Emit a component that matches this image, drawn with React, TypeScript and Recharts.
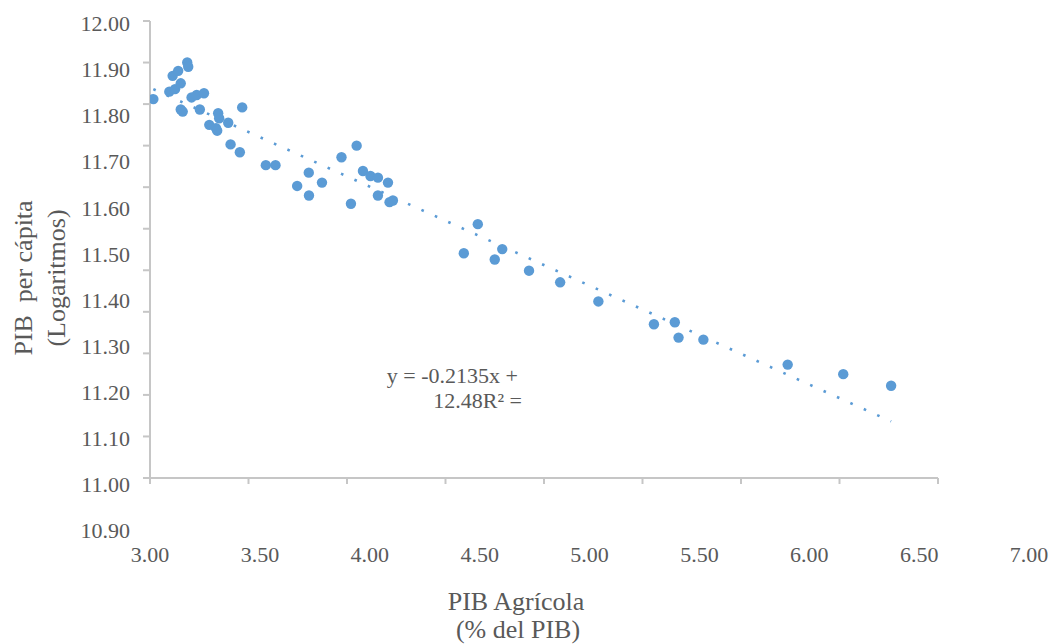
import { ScatterChart, Scatter, XAxis, YAxis } from 'recharts'

// PIB agrícola (% del PIB) vs PIB per cápita (log), one point per observation
const AGRI_SHARE = [
  3.017, 3.098, 3.127, 3.115, 3.143, 3.156, 3.189, 3.194, 3.156, 3.166,
  3.211, 3.237, 3.274, 3.253, 3.301, 3.335, 3.341, 3.346, 3.351, 3.397,
  3.468, 3.409, 3.456, 3.588, 3.637, 3.747, 3.806, 3.807, 3.873, 3.972,
  4.049, 4.081, 4.119, 4.157, 4.208, 4.157, 4.02, 4.216, 4.233, 4.664,
  4.593, 4.75, 4.788, 4.924, 5.082, 5.276, 5.558, 5.664, 5.683, 5.809,
  6.237, 6.519, 6.762,
]
const LOG_GDP = [
  11.812, 11.83, 11.836, 11.868, 11.88, 11.85, 11.9, 11.89, 11.787, 11.782,
  11.816, 11.822, 11.826, 11.787, 11.75, 11.742, 11.736, 11.778, 11.766, 11.755,
  11.792, 11.703, 11.684, 11.653, 11.653, 11.603, 11.635, 11.58, 11.611, 11.672,
  11.7, 11.639, 11.627, 11.623, 11.611, 11.58, 11.56, 11.564, 11.568, 11.511,
  11.441, 11.426, 11.451, 11.399, 11.371, 11.325, 11.27, 11.275, 11.238, 11.233,
  11.173, 11.15, 11.122,
]

const X_TICKS = [3, 3.5, 4, 4.5, 5, 5.5, 6, 6.5, 7]
const Y_TICKS = [10.9, 11.0, 11.1, 11.2, 11.3, 11.4, 11.5, 11.6, 11.7, 11.8, 11.9, 12.0]

// linear trend shown on the chart
const SLOPE = -0.2135
const INTERCEPT = 12.48
const EQ_LINE_1 = 'y = -0.2135x +'
const EQ_LINE_2 = '12.48R² ='

const BLUE = '#5B9BD5'
const AXIS = '#C6C6C6'
const TEXT = '#595959'
const FONT = '"Liberation Serif", "Times New Roman", serif'

const W = 1051
const H = 644
const PLOT_LEFT = 150
const PLOT_TOP = 21
const PLOT_RIGHT = 938
const PLOT_BOTTOM = 478

// tick labels in the source sit on a slightly stretched grid vs. the tick marks
const X_LABEL_STRETCH = 1.1156
const Y_LABEL_STRETCH = 1.1095

const labelStyle = { fontFamily: FONT, fontSize: 22, fill: TEXT }

const points = AGRI_SHARE.map((x, i) => ({ x, y: LOG_GDP[i] }))
const xMin = Math.min(...AGRI_SHARE)
const xMax = Math.max(...AGRI_SHARE)
const trend = [
  { x: xMin, y: SLOPE * xMin + INTERCEPT },
  { x: xMax, y: SLOPE * xMax + INTERCEPT },
]

function XTick({ x, payload }: { x: number; payload: { value: number } }) {
  const lx = PLOT_LEFT + (x - PLOT_LEFT) * X_LABEL_STRETCH
  return (
    <text x={lx} y={562} textAnchor="middle" style={labelStyle}>
      {payload.value.toFixed(2)}
    </text>
  )
}

function YTick({ y, payload }: { y: number; payload: { value: number } }) {
  const ly = 23.7 + (y - PLOT_TOP) * Y_LABEL_STRETCH
  return (
    <text x={130} y={ly + 7.5} textAnchor="end" style={labelStyle}>
      {payload.value.toFixed(2)}
    </text>
  )
}

export default function App() {
  return (
    <div style={{ position: 'absolute', left: 0, top: 0, width: W, height: H, background: '#fff' }}>
      <ScatterChart
        width={W}
        height={H}
        margin={{ top: PLOT_TOP, right: W - PLOT_RIGHT, bottom: H - PLOT_BOTTOM - 30, left: 0 }}
      >
        <XAxis
          type="number"
          dataKey="x"
          domain={[3, 7]}
          ticks={X_TICKS}
          height={30}
          tickSize={6}
          stroke={AXIS}
          strokeWidth={2}
          tick={(props: any) => <XTick {...props} />}
          interval={0}
          allowDataOverflow
        />
        <YAxis
          type="number"
          dataKey="y"
          domain={[10.9, 12]}
          ticks={Y_TICKS}
          width={PLOT_LEFT}
          tickSize={7}
          stroke={AXIS}
          strokeWidth={2}
          tick={(props: any) => <YTick {...props} />}
          interval={0}
          allowDataOverflow
        />
        <Scatter
          data={trend}
          line={{ stroke: BLUE, strokeWidth: 2.6, strokeDasharray: '2.6 12.1' }}
          shape={() => <g />}
          isAnimationActive={false}
        />
        <Scatter
          data={points}
          fill={BLUE}
          isAnimationActive={false}
          shape={(p: any) => <circle cx={p.cx} cy={p.cy} r={5.2} fill={BLUE} />}
        />
      </ScatterChart>
      <svg
        width={W}
        height={H}
        style={{ position: 'absolute', left: 0, top: 0, pointerEvents: 'none' }}
        fontFamily={FONT}
        fill={TEXT}
      >
        <text x={518} y={383} textAnchor="end" fontSize={22}>{EQ_LINE_1}</text>
        <text x={522} y={408} textAnchor="end" fontSize={22}>{EQ_LINE_2}</text>
        <text x={516} y={610} textAnchor="middle" fontSize={26}>PIB Agrícola</text>
        <text x={518} y={638} textAnchor="middle" fontSize={26}>(% del PIB)</text>
        <text transform="translate(32,278) rotate(-90)" textAnchor="middle" fontSize={26}>
          {'PIB\u00a0 per cápita'}
        </text>
        <text transform="translate(65,278) rotate(-90)" textAnchor="middle" fontSize={26}>
          (Logaritmos)
        </text>
      </svg>
    </div>
  )
}
